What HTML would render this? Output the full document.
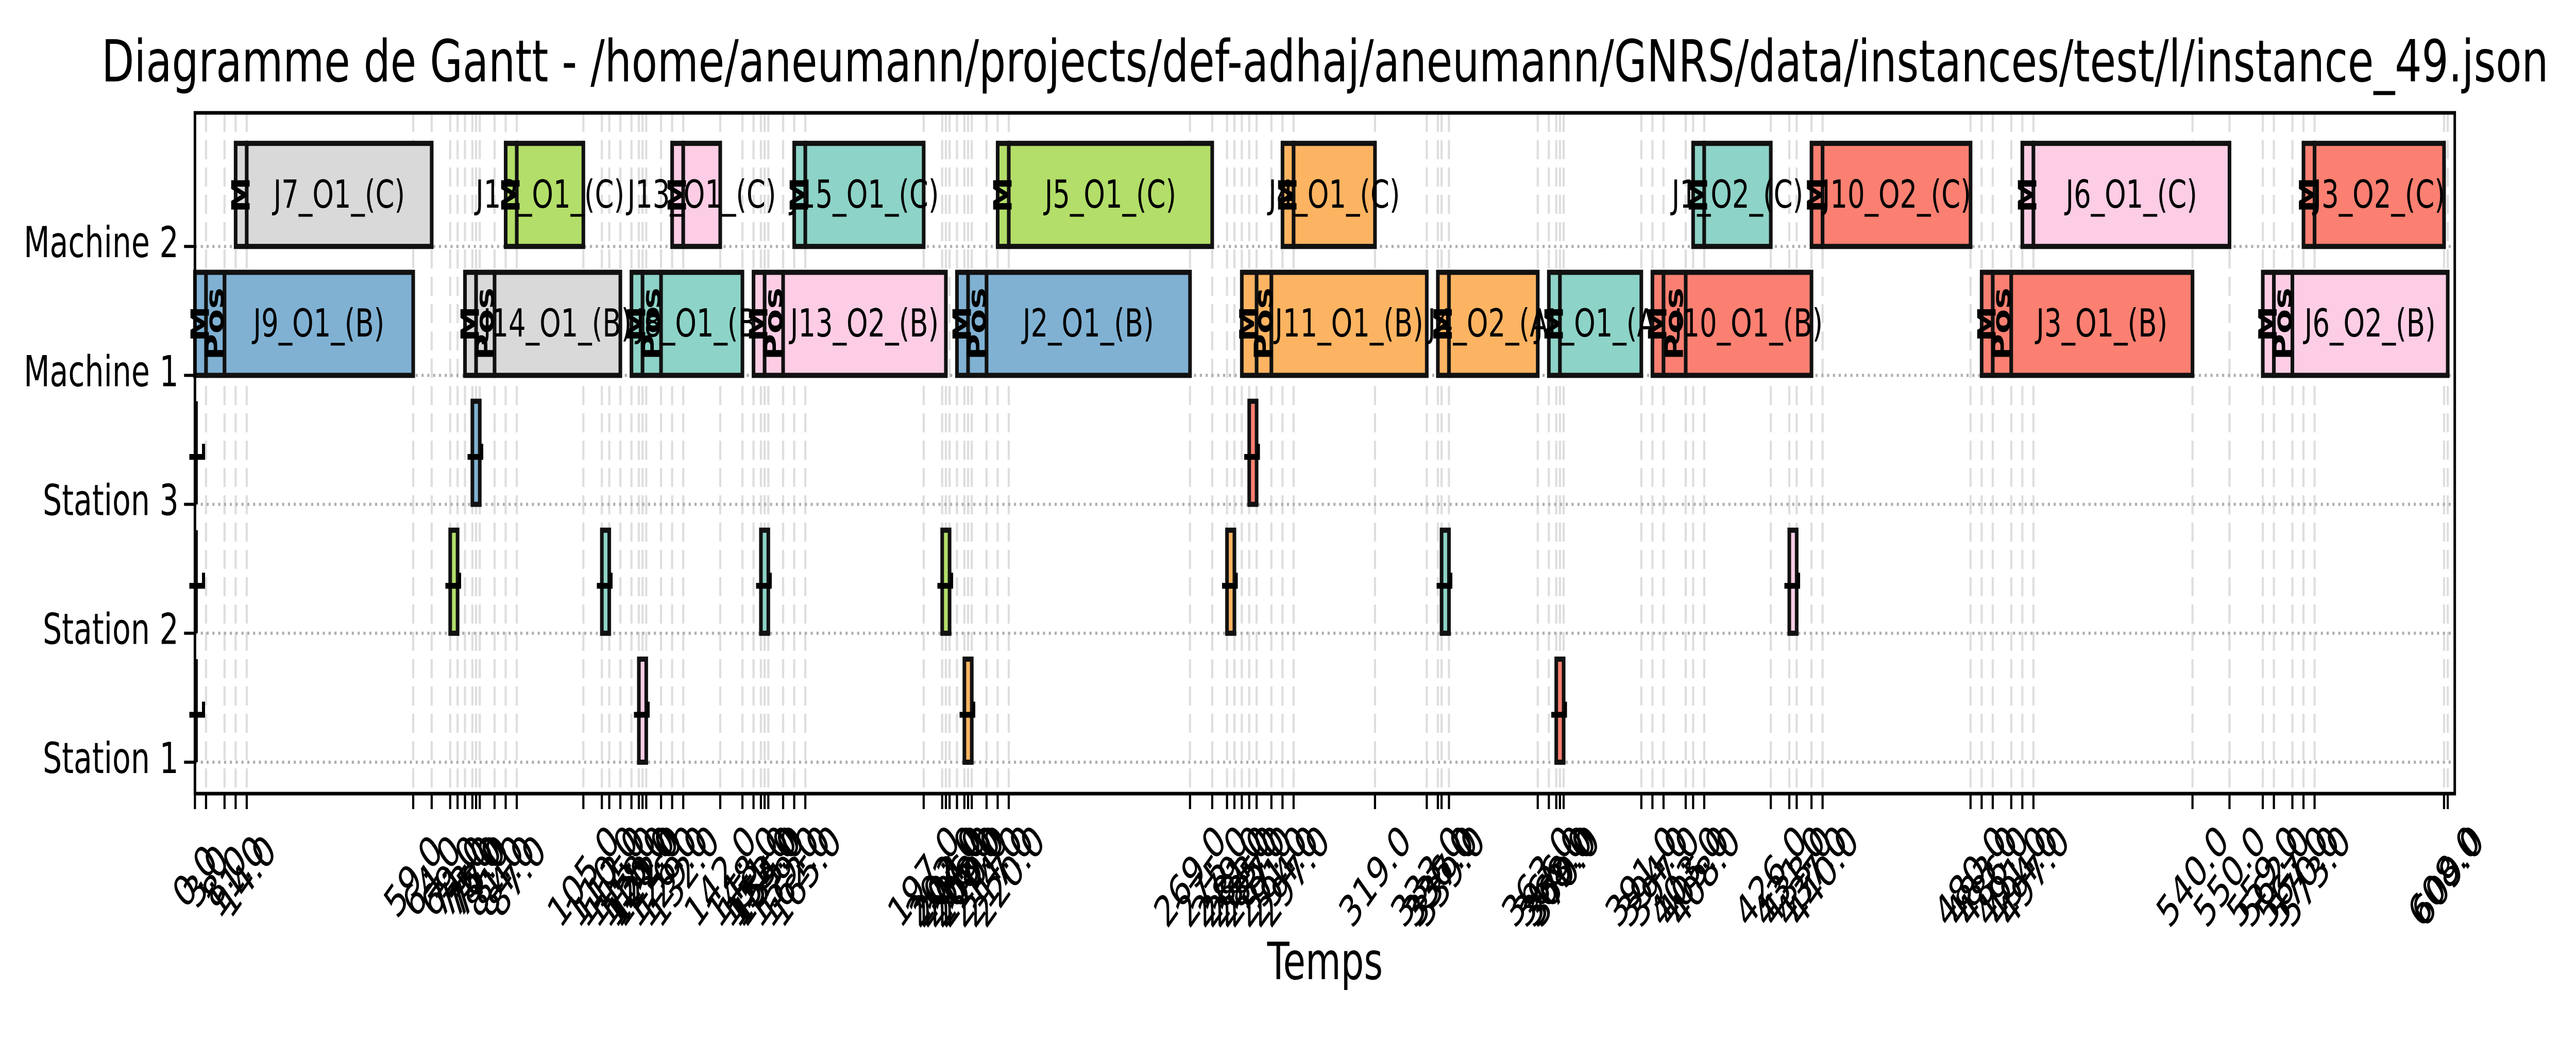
<!DOCTYPE html>
<html><head><meta charset="utf-8"><style>
html,body{margin:0;padding:0;background:#fff;width:100%;height:100%;overflow:hidden}
svg{display:block;width:100vw;height:100vh;font-family:"DejaVu Sans","Liberation Sans",sans-serif;overflow:hidden}
</style></head><body>
<svg id="chart" viewBox="0 0 7096 2020" preserveAspectRatio="none" xmlns="http://www.w3.org/2000/svg">
<rect width="7096" height="2020" fill="#fff"/>
<text x="3650" y="158" font-size="112" text-anchor="middle" textLength="6740" lengthAdjust="spacingAndGlyphs">Diagramme de Gantt - /home/aneumann/projects/def-adhaj/aneumann/GNRS/data/instances/test/l/instance_49.json</text>
<g id="grid"></g><g id="bars"></g><g id="axes"></g>
<text x="3650" y="1900" font-size="100" text-anchor="middle">Temps</text>
</svg>
<script>
// rows (bottom to top)
const rowLabels = ["Station 1","Station 2","Station 3","Machine 1","Machine 2"];
// Machine 2 operations
const m2Labels = ["J7_O1_(C)","J12_O1_(C)","J13_O1_(C)","J15_O1_(C)","J5_O1_(C)","J4_O1_(C)","J1_O2_(C)","J10_O2_(C)","J6_O1_(C)","J3_O2_(C)"];
const m2Colors = ["#d9d9d9","#b3de69","#fccde5","#8dd3c7","#b3de69","#fdb462","#8dd3c7","#fb8072","#fccde5","#fb8072"];
const m2Setup = [11,84,129,162,217,294,405,437,494,570];
const m2Start = [14,87,132,165,220,297,408,440,497,573];
const m2End = [64,105,142,197,275,319,426,480,550,608];
// Machine 1 operations
const m1Labels = ["J9_O1_(B)","J14_O1_(B)","J8_O1_(B)","J13_O2_(B)","J2_O1_(B)","J11_O1_(B)","J4_O2_(A)","J1_O1_(A)","J10_O1_(B)","J3_O1_(B)","J6_O2_(B)"];
const m1Colors = ["#80b1d3","#d9d9d9","#8dd3c7","#fccde5","#80b1d3","#fdb462","#fdb462","#8dd3c7","#fb8072","#fb8072","#fccde5"];
const m1PM = [0,73,118,151,206,283,336,366,394,483,559];
const m1Pos = [3,76,121,154,209,287,null,null,397,486,562];
const m1Start = [8,81,126,159,214,291,339,369,403,491,567];
const m1End = [59,115,148,203,269,333,363,391,437,540,609];
// Station operations
const stRow = [2,2,1,1,1,1,1,1,1,0,0,0];
const stStart = [75,285,69,110,153,202,279,337,431,120,208,368];
const stEnd = [77,287,71,112,155,204,281,339,433,122,210,370];
const stColors = ["#80b1d3","#fb8072","#b3de69","#8dd3c7","#8dd3c7","#b3de69","#fdb462","#8dd3c7","#fccde5","#fccde5","#fdb462","#fb8072"];

const NS="http://www.w3.org/2000/svg";
const X0=537, X1=6762, Y0=219, Y1=1540, XMAX=(X1-X0)/10.19;
function xs(v){return X0+(v/XMAX)*(X1-X0);}
function ys(r){return 1479-r*250.2;}
function mk(tag,attrs,parent){const e=document.createElementNS(NS,tag);for(const k in attrs)e.setAttribute(k,attrs[k]);parent.appendChild(e);return e;}
const grid=document.getElementById('grid'),bars=document.getElementById('bars'),axes=document.getElementById('axes');

let tickSet=new Set();
[m2Setup,m2Start,m2End,m1PM,m1Start,m1End,stStart,stEnd].forEach(a=>a.forEach(v=>tickSet.add(v)));
m1Pos.forEach(v=>{if(v!==null)tickSet.add(v);});
tickSet.add(0);
const ticks=[...tickSet].sort((a,b)=>a-b);

ticks.forEach(t=>{
  const l=mk('line',{x1:xs(t),x2:xs(t),y1:Y0,y2:Y1,stroke:'#dedede','stroke-width':6,'stroke-dasharray':'37,16'},grid);
  
  
});
rowLabels.forEach((r,i)=>{
  const l=mk('line',{x1:X0,x2:X1,y1:ys(i),y2:ys(i),stroke:'#b0b0b0','stroke-width':6,'stroke-dasharray':'6,10'},grid);
  
  
});

function box(a,b,r,col,name){
  const y=ys(r);
  const e=mk('rect',{x:xs(a),y:y-200,width:Math.max(xs(b)-xs(a),1),height:200,fill:col,stroke:'#111','stroke-width':10},bars);
  
  
  return e;
}
function rtext(txt,cx,cy,size,name){
  const t=mk('text',{x:0,y:0,'font-size':size,'font-weight':'bold','text-anchor':'middle','dominant-baseline':'central',transform:`translate(${cx},${cy}) rotate(-90)`},bars);
  t.textContent=txt;
  
  
}
function label(txt,cx,cy,name){
  const t=mk('text',{x:cx,y:cy,'font-size':75,'text-anchor':'middle','dominant-baseline':'central'},bars);
  t.textContent=txt;
  
  
}
m2Labels.forEach((lab,i)=>{
  box(m2Setup[i],m2Start[i],4,m2Colors[i],'setup-bar');
  box(m2Start[i],m2End[i],4,m2Colors[i],'operation-bar');
  const cy=ys(4)-100;
  label(lab,(xs(m2Start[i])+xs(m2End[i]))/2,cy,'operation-label');
  rtext('M',(xs(m2Setup[i])+xs(m2Start[i]))/2,cy,70,'setup-label');
});
m1Labels.forEach((lab,i)=>{
  const cy=ys(3)-100;
  const pmEnd=m1Pos[i]!==null?m1Pos[i]:m1Start[i];
  box(m1PM[i],pmEnd,3,m1Colors[i],'pm-bar');
  if(m1Pos[i]!==null) box(m1Pos[i],m1Start[i],3,m1Colors[i],'pos-bar');
  box(m1Start[i],m1End[i],3,m1Colors[i],'operation-bar');
  label(lab,(xs(m1Start[i])+xs(m1End[i]))/2,cy,'operation-label');
  rtext('M',(xs(m1PM[i])+xs(pmEnd))/2,cy,70,'pm-label');
  if(m1Pos[i]!==null) rtext('Pos',(xs(m1Pos[i])+xs(m1Start[i]))/2,cy,70,'pos-label');
});
[0,1,2].forEach(r=>{
  const e=mk('rect',{x:X0,y:ys(r)-200,width:8,height:200,fill:'#111'},bars);
  
  
  rtext('L',X0+8,ys(r)-100,60,'station-mark');
});
stStart.forEach((s,i)=>{
  box(s,stEnd[i],stRow[i],stColors[i],'station-bar');
  rtext('L',(xs(s)+xs(stEnd[i]))/2,ys(stRow[i])-100,60,'station-mark');
});

const fr=mk('rect',{x:X0,y:Y0,width:X1-X0,height:Y1-Y0,fill:'none',stroke:'#000','stroke-width':7},axes);


rowLabels.forEach((r,i)=>{
  const tk=mk('line',{x1:X0-30,x2:X0,y1:ys(i),y2:ys(i),stroke:'#000','stroke-width':6},axes);
  
  
  const t=mk('text',{x:X0-45,y:ys(i)-8,'font-size':83,'text-anchor':'end','dominant-baseline':'central'},axes);
  t.textContent=r;
  
  
});
ticks.forEach(v=>{
  const tk=mk('line',{x1:xs(v),x2:xs(v),y1:Y1,y2:Y1+30,stroke:'#000','stroke-width':6},axes);
  
  
  const t=mk('text',{x:0,y:0,'font-size':83,'text-anchor':'middle','dominant-baseline':'central',transform:`translate(${xs(v)},1700) rotate(-45)`},axes);
  t.textContent=v.toFixed(1);
  
  
});
</script>
</body></html>
